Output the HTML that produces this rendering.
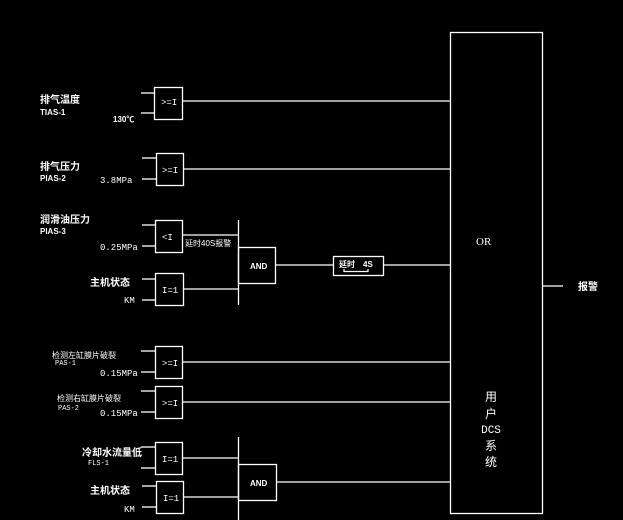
<!DOCTYPE html>
<html><head><meta charset="utf-8"><style>
html,body{margin:0;padding:0;background:#000;width:623px;height:520px;overflow:hidden}
svg{display:block}
text{fill:#fff;font-family:"Liberation Sans","Noto Sans CJK SC",sans-serif}
g.b text{font-weight:bold;font-size:10px}
g.m text{font-family:"Liberation Mono","Noto Sans CJK SC",monospace;font-size:9px}
</style></head><body>
<svg width="623" height="520" viewBox="0 0 623 520" xmlns="http://www.w3.org/2000/svg">
<g stroke="#fff" stroke-width="1.3" fill="none">
<rect x="450.5" y="32.5" width="92" height="481"/>
<line x1="542" y1="286" x2="563" y2="286"/>
<rect x="154.5" y="87.5" width="28" height="32"/>
<line x1="141" y1="93" x2="154" y2="93"/><line x1="141" y1="113" x2="154" y2="113"/>
<line x1="183" y1="101" x2="450" y2="101"/>
<rect x="156.5" y="153.5" width="27" height="32"/>
<line x1="142" y1="158" x2="156" y2="158"/><line x1="142" y1="179" x2="156" y2="179"/>
<line x1="184" y1="169" x2="450" y2="169"/>
<rect x="155.5" y="220.5" width="27" height="32"/>
<line x1="142" y1="225" x2="155" y2="225"/><line x1="142" y1="246" x2="155" y2="246"/>
<line x1="183" y1="235" x2="238" y2="235"/>
<line x1="238.5" y1="220" x2="238.5" y2="305"/>
<rect x="238.5" y="247.5" width="37" height="36"/>
<line x1="276" y1="265" x2="333" y2="265"/>
<rect x="333.5" y="256.5" width="50" height="19"/>
<line x1="344" y1="271.5" x2="368" y2="271.5"/><line x1="344" y1="269" x2="344" y2="272"/><line x1="368" y1="269" x2="368" y2="272"/>
<line x1="384" y1="265" x2="450" y2="265"/>
<rect x="155.5" y="273.5" width="28" height="32"/>
<line x1="142" y1="279" x2="155" y2="279"/><line x1="142" y1="300" x2="155" y2="300"/>
<line x1="184" y1="289" x2="238" y2="289"/>
<rect x="155.5" y="346.5" width="27" height="32"/>
<line x1="141" y1="351" x2="155" y2="351"/><line x1="141" y1="372" x2="155" y2="372"/>
<line x1="183" y1="362" x2="450" y2="362"/>
<rect x="155.5" y="386.5" width="27" height="32"/>
<line x1="141" y1="391" x2="155" y2="391"/><line x1="141" y1="412" x2="155" y2="412"/>
<line x1="183" y1="402" x2="450" y2="402"/>
<rect x="155.5" y="442.5" width="27" height="32"/>
<line x1="141" y1="447" x2="155" y2="447"/><line x1="141" y1="468" x2="155" y2="468"/>
<line x1="183" y1="458" x2="238" y2="458"/>
<line x1="238.5" y1="437" x2="238.5" y2="520"/>
<rect x="156.5" y="481.5" width="27" height="32"/>
<line x1="142" y1="486" x2="156" y2="486"/><line x1="142" y1="507" x2="156" y2="507"/>
<line x1="184" y1="497" x2="238" y2="497"/>
<rect x="238.5" y="464.5" width="38" height="36"/>
<line x1="277" y1="482" x2="450" y2="482"/>
</g>
<g class="m">
<text x="161" y="105">&gt;=I</text>
<text x="162" y="173">&gt;=I</text>
<text x="162" y="240">&lt;I</text>
<text x="162" y="293">I=1</text>
<text x="162" y="366">&gt;=I</text>
<text x="162" y="406">&gt;=I</text>
<text x="162" y="462">I=1</text>
<text x="163" y="501">I=1</text>
<text x="100" y="183">3.8MPa</text>
<text x="100" y="250">0.25MPa</text>
<text x="100" y="376">0.15MPa</text>
<text x="100" y="416">0.15MPa</text>
<text x="124" y="303">KM</text>
<text x="124" y="512">KM</text>
<text x="55" y="365" style="font-size:7px">PAS-1</text>
<text x="58" y="410" style="font-size:7px">PAS-2</text>
<text x="88" y="465" style="font-size:7px">FLS-1</text>
</g>
<g class="b">
<text x="40" y="103">排气温度</text>
<text x="40" y="115" style="font-size:8px">TIAS-1</text>
<text x="113" y="122" style="font-size:8px">130℃</text>
<text x="40" y="170">排气压力</text>
<text x="40" y="181" style="font-size:8px">PIAS-2</text>
<text x="40" y="223">润滑油压力</text>
<text x="40" y="234" style="font-size:8px">PIAS-3</text>
<text x="90" y="286">主机状态</text>
<text x="82" y="456">冷却水流量低</text>
<text x="90" y="494">主机状态</text>
<text x="250" y="269" style="font-size:8px">AND</text>
<text x="250" y="486" style="font-size:8px">AND</text>
<text x="339" y="267" style="font-size:8px">延时</text>
<text x="363" y="267" style="font-size:8px">4S</text>
<text x="578" y="290">报警</text>
</g>
<text x="185" y="246" style="font-size:8px">延时40S报警</text>
<text x="52" y="358" style="font-size:8px">检测左缸膜片破裂</text>
<text x="57" y="401" style="font-size:8px">检测右缸膜片破裂</text>
<text x="476" y="245" style="font-size:11px;font-family:'Liberation Serif','Noto Sans CJK SC',serif">OR</text>
<g style="font-size:12px" text-anchor="middle">
<text x="491" y="401">用</text>
<text x="491" y="418">户</text>
<text x="491" y="433" style="font-family:'Liberation Mono',monospace;font-size:11px">DCS</text>
<text x="491" y="450">系</text>
<text x="491" y="466">统</text>
</g>
</svg>
</body></html>
